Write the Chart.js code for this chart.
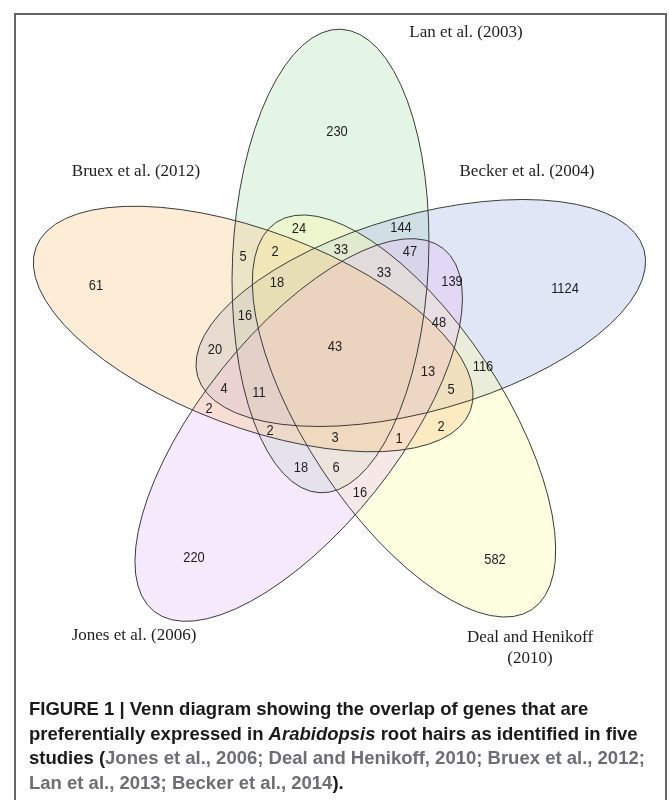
<!DOCTYPE html>
<html>
<head>
<meta charset="utf-8">
<script src="https://cdn.jsdelivr.net/npm/chart.js@4.4.1/dist/chart.umd.min.js"></script>
<style>
  html, body { margin: 0; padding: 0; background: #fff; }
  #wrap { position: relative; width: 669px; height: 800px; overflow: hidden; }
  #frame {
    position: absolute; left: 14px; top: 13px; width: 649px; height: 800px;
    border: 2px solid #666; border-bottom: none;
  }
  canvas { position: absolute; left: 0; top: 0; }
  #caption {
    position: absolute; left: 29px; top: 697px;
    font-family: "Liberation Sans", Arial, sans-serif; font-weight: bold;
    font-size: 18.5px; line-height: 24.5px; color: #1a1a1a; white-space: nowrap;
  }
  #caption .ref { color: #6d6e71; }
</style>
</head>
<body>
<div id="wrap">
  <div id="frame"></div>
  <canvas id="venn" width="669" height="800"></canvas>
  <div id="caption">
    FIGURE 1 | Venn diagram showing the overlap of genes that are<br>
    preferentially expressed in <i>Arabidopsis</i> root hairs as identified in five<br>
    studies (<span class="ref">Jones et al., 2006; Deal and Henikoff, 2010; Bruex et al., 2012;</span><br>
    <span class="ref">Lan et al., 2013; Becker et al., 2014</span>).
  </div>
</div>
<script>
// sets, in drawing order
const setNames = ['Lan et al. (2003)', 'Becker et al. (2004)', 'Deal and Henikoff', 'Jones et al. (2006)', 'Bruex et al. (2012)'];
const setSubNames = ['', '', '(2010)', '', ''];
const setColors = ['#b5e2b5', '#a6b8e5', '#fcfca6', '#e8c0f6', '#f9c98a'];

// ellipse layout per set: centre x, centre y, semi-axes, rotation (deg)
const ellipseX = [330.5, 420.8, 404, 298.7, 253.2];
const ellipseY = [261, 313, 416, 430, 329];
const ellipseA = [232, 232, 232, 232, 232];
const ellipseB = [98, 98, 98, 98, 98];
const ellipseRot = [-87.4, -15.8, 56.6, 128.6, 200.6];

// set label positions
const setLabelX = [466, 527, 530, 134, 136];
const setLabelY = [33, 172, 638, 636, 172];

// region counts and where they sit
const regionCounts = [230, 61, 1124, 220, 582, 24, 144, 5, 2, 33, 47, 33, 139, 18, 16, 48, 20, 43, 13, 116, 4, 11, 5, 2, 2, 3, 1, 2, 18, 6, 16];
const regionX = [337, 96, 565, 194, 495, 299, 401, 243, 275, 341, 410, 384, 452, 277, 245, 439, 215, 335, 428, 483, 224, 259, 451, 209, 270, 335, 399, 441, 301, 336, 360];
const regionY = [132, 286, 289, 558, 560, 229, 228, 257, 252, 250, 252, 273, 282, 283, 316, 323, 350, 347, 372, 367, 389, 393, 390, 409, 431, 438, 439, 427, 468, 468, 493];

const vennPlugin = {
    id: 'venn',
    beforeDatasetsDraw(chart) {
        const { ctx, scales: { x, y } } = chart;
        const draw = (fill) => {
            ellipseX.forEach((cx, i) => {
                const px = x.getPixelForValue(cx);
                const py = y.getPixelForValue(ellipseY[i]);
                const rx = Math.abs(x.getPixelForValue(cx + ellipseA[i]) - px);
                const ry = Math.abs(x.getPixelForValue(cx + ellipseB[i]) - px);
                ctx.beginPath();
                ctx.ellipse(px, py, rx, ry, ellipseRot[i] * Math.PI / 180, 0, Math.PI * 2);
                if (fill) {
                    ctx.globalAlpha = 0.35;
                    ctx.fillStyle = setColors[i];
                    ctx.fill();
                } else {
                    ctx.globalAlpha = 1;
                    ctx.lineWidth = 1;
                    ctx.strokeStyle = '#3a3a3a';
                    ctx.stroke();
                }
            });
        };
        ctx.save();
        draw(true);
        draw(false);
        ctx.restore();
    },
    afterDatasetsDraw(chart) {
        const { ctx } = chart;
        ctx.save();
        ctx.textAlign = 'center';
        ctx.textBaseline = 'middle';
        ctx.fillStyle = '#1e1e1e';
        // counts, slightly condensed like the original
        ctx.font = '14px "Liberation Sans", Arial, sans-serif';
        chart.getDatasetMeta(0).data.forEach((pt, i) => {
            ctx.save();
            ctx.translate(pt.x, pt.y);
            ctx.scale(0.92, 1);
            ctx.fillText(String(regionCounts[i]), 0, 0);
            ctx.restore();
        });
        // set names
        ctx.font = '17px "Liberation Serif", "Times New Roman", serif';
        chart.getDatasetMeta(1).data.forEach((pt, i) => {
            ctx.fillText(setNames[i], pt.x, pt.y);
            if (setSubNames[i]) ctx.fillText(setSubNames[i], pt.x, pt.y + 21);
        });
        ctx.restore();
    }
};

new Chart(document.getElementById('venn'), {
    type: 'scatter',
    data: {
        datasets: [
            {
                label: 'regions',
                data: regionCounts.map((v, i) => ({ x: regionX[i], y: regionY[i] })),
                pointRadius: 0
            },
            {
                label: 'sets',
                data: setNames.map((n, i) => ({ x: setLabelX[i], y: setLabelY[i] })),
                pointRadius: 0
            }
        ]
    },
    options: {
        responsive: false,
        animation: false,
        layout: { padding: 0 },
        plugins: { legend: { display: false }, tooltip: { enabled: false } },
        scales: {
            x: { type: 'linear', min: 0, max: 669, display: false },
            y: { type: 'linear', min: 0, max: 800, reverse: true, display: false }
        }
    },
    plugins: [vennPlugin]
});
</script>
</body>
</html>
